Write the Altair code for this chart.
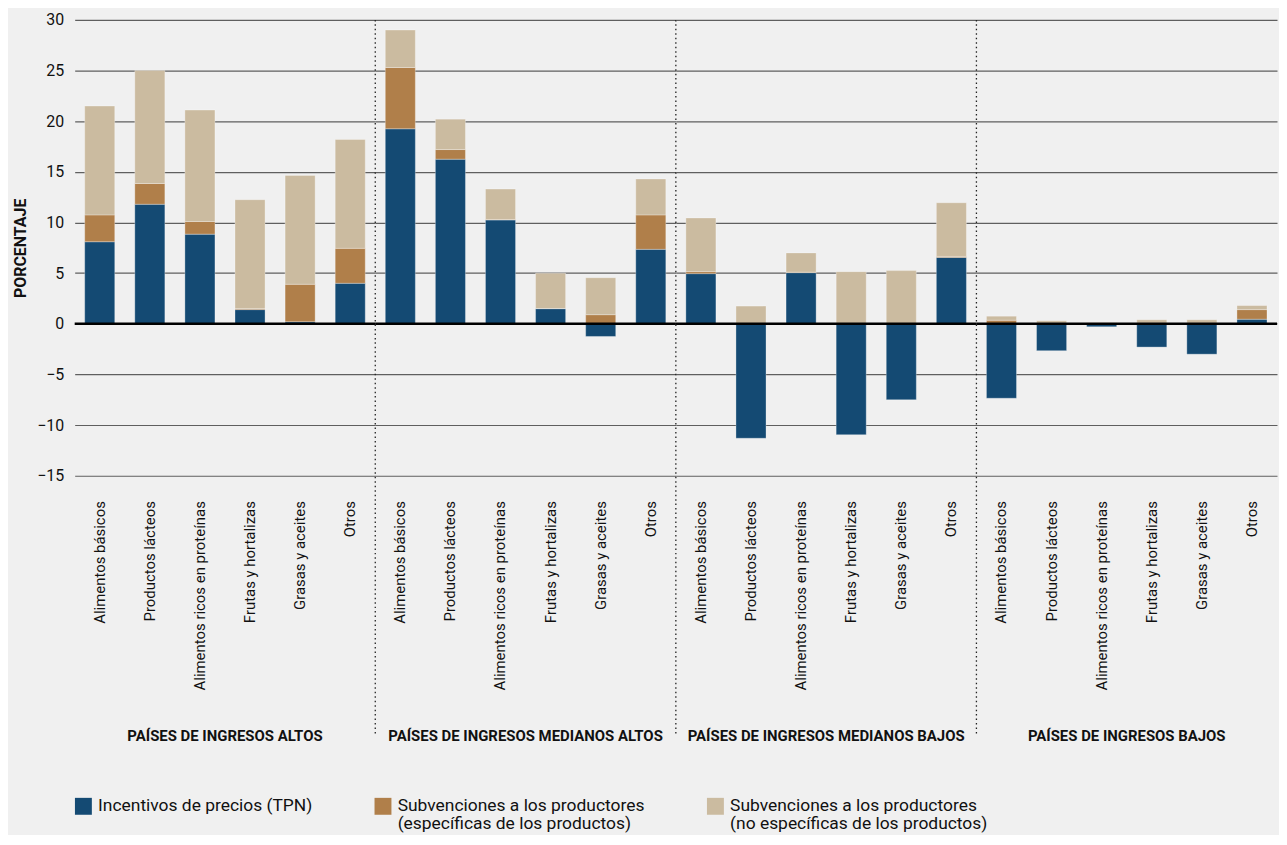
import altair as alt
import pandas as pd

groups = [
    "PAÍSES DE INGRESOS ALTOS",
    "PAÍSES DE INGRESOS MEDIANOS ALTOS",
    "PAÍSES DE INGRESOS MEDIANOS BAJOS",
    "PAÍSES DE INGRESOS BAJOS",
]
categories = [
    "Alimentos básicos",
    "Productos lácteos",
    "Alimentos ricos en proteínas",
    "Frutas y hortalizas",
    "Grasas y aceites",
    "Otros",
]
series = [
    "Incentivos de precios (TPN)",
    "Subvenciones a los productores\n(específicas de los productos)",
    "Subvenciones a los productores\n(no específicas de los productos)",
]
colors = ["#144a73", "#b07f4a", "#cbbba0"]

# values per group (6 categories each), in percent
tpn = [
    8.1, 11.8, 8.85, 1.4, 0.2, 4.0,
    19.25, 16.25, 10.25, 1.5, -1.25, 7.35,
    4.95, -11.3, 5.05, -10.95, -7.5, 6.55,
    -7.35, -2.65, -0.3, -2.3, -3.0, 0.45,
]
especificas = [
    2.65, 2.05, 1.25, 0.1, 3.7, 3.45,
    6.05, 0.95, 0.05, 0.0, 0.9, 3.4,
    0.2, 0.0, 0.05, 0.0, 0.0, 0.1,
    0.35, 0.05, 0.1, 0.05, 0.05, 0.95,
]
no_especificas = [
    10.75, 11.15, 11.0, 10.75, 10.75, 10.75,
    3.7, 3.0, 3.0, 3.5, 3.65, 3.55,
    5.3, 1.75, 1.9, 5.15, 5.25, 5.3,
    0.4, 0.25, 0.0, 0.35, 0.35, 0.4,
]

rows = []
for gi, g in enumerate(groups):
    for ci, c in enumerate(categories):
        k = gi * 6 + ci
        for si, (s, vals) in enumerate(zip(series, [tpn, especificas, no_especificas])):
            rows.append({"grupo": g, "categoria": c, "serie": s, "idx": si, "valor": vals[k]})
df = pd.DataFrame(rows)

FONT = "Roboto, Liberation Sans, sans-serif"
H = 458
W = 302

bars = alt.Chart().mark_bar(
    stroke="#ffffff", strokeOpacity=0.3, strokeWidth=1
).encode(
    x=alt.X(
        "categoria:N",
        sort=categories,
        scale=alt.Scale(paddingInner=0.4, paddingOuter=0.2),
        axis=alt.Axis(
            title=None, labelAngle=-90, labelFontSize=15, labelPadding=25,
            ticks=False, domain=False, labelFont=FONT, labelColor="#111111",
            labelLimit=400,
        ),
    ),
    y=alt.Y(
        "valor:Q",
        stack="zero",
        scale=alt.Scale(domain=[-15, 30], nice=False),
        axis=alt.Axis(
            title="PORCENTAJE", values=list(range(-15, 31, 5)),
            labelFontSize=16, labelFont=FONT, labelColor="#111111",
            labelPadding=11, ticks=False, domain=False,
            grid=True, gridColor="#5f5f5f", gridWidth=1.2,
            titleFont=FONT, titleFontSize=16, titleFontWeight="bold",
            titleColor="#111111", titlePadding=8,
        ),
    ),
    color=alt.Color(
        "serie:N",
        sort=series,
        scale=alt.Scale(domain=series, range=colors),
        legend=alt.Legend(
            title=None, orient="none", legendX=0, legendY=781,
            direction="horizontal", columns=3, columnPadding=62,
            symbolType="square", symbolSize=289, symbolStrokeWidth=0,
            symbolOpacity=1,
            labelFont=FONT, labelFontSize=17.5, labelColor="#111111",
            labelOffset=6, labelLimit=400,
            labelExpr="split(indexof(datum.label, '\\n') < 0 ? datum.label + '\\n ' : datum.label, '\\n')",
        ),
    ),
    order=alt.Order("idx:Q", sort="ascending"),
)

zero = alt.Chart().transform_aggregate(
    n="count()", groupby=["grupo"]
).mark_rule(color="#000000", strokeWidth=2.5).encode(y=alt.Y(datum=0))

sep = alt.Chart().transform_filter(
    alt.datum.grupo != groups[0]
).transform_aggregate(
    n="count()", groupby=["grupo"]
).mark_rule(color="#222222", strokeWidth=1.3, strokeDash=[1.5, 3]).encode(
    x=alt.value(0), y=alt.value(0), y2=alt.value(H + 261)
)

chart = alt.layer(bars, zero, sep, data=df).properties(
    width=W, height=H
).facet(
    column=alt.Column(
        "grupo:N", sort=groups, title=None,
        header=alt.Header(
            labelOrient="bottom", labelFont=FONT, labelFontSize=15,
            labelFontWeight="bold", labelColor="#111111", labelPadding=39,
        ),
    ),
    spacing=0,
    bounds="flush",
).properties(
    background="#f0f0f0",
    padding={"left": 4, "top": 2, "right": 0, "bottom": 0},
).configure(
    style={"guide-label": {"lineHeight": 18}}
).configure_view(stroke=None)

chart.save("out.html", embed_options={"renderer": "svg", "actions": False})
